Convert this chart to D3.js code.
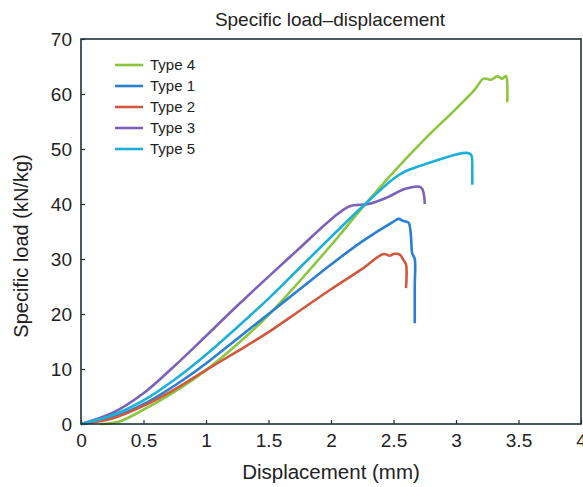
<!DOCTYPE html>
<html>
<head>
<meta charset="utf-8">
<script src="https://cdn.jsdelivr.net/npm/d3@7"></script>
<style>
  body { margin: 0; background: #fff; }
  text { font-family: "Liberation Sans", Arial, Helvetica, sans-serif; fill: #222; }
</style>
</head>
<body>
<div id="chart"></div>
<script>
/* Data: [displacement (mm), specific load (kN/kg)] */
var seriesNames = ["Type 4", "Type 1", "Type 2", "Type 3", "Type 5"];
var seriesColors = ["#8cc63f", "#2a7fd2", "#d0583e", "#7a62b8", "#1cb0d9"];

var type4 = [[0.15,0],[0.3,0.4],[0.5,2.6],[0.75,5.9],[1.0,9.8],[1.25,14.5],[1.5,19.8],[1.75,26],[2.0,32.5],
             [2.25,39.3],[2.5,45.8],[2.75,51.8],[3.0,57.3],[3.15,60.8],[3.22,62.8],[3.28,62.6],[3.33,63.2],[3.37,62.8],
             [3.4,63.3],[3.41,62],[3.41,58.5]];
var type1 = [[0,0],[0.25,1.2],[0.5,3.6],[0.75,7],[1.0,11],[1.25,15.5],[1.5,20],[1.75,24.5],[2.0,29],[2.25,33.2],
             [2.5,36.8],[2.54,37.3],[2.58,36.9],[2.62,36.6],[2.64,34],[2.65,31],[2.67,30],[2.67,25],[2.67,18.3]];
var type2 = [[0,0],[0.25,1],[0.5,3.3],[0.75,6.3],[1.0,9.8],[1.25,13.2],[1.5,16.7],[1.75,20.6],[2.0,24.5],
             [2.25,28.2],[2.42,30.9],[2.47,30.6],[2.5,30.9],[2.55,30.8],[2.58,29.8],[2.6,29],[2.6,24.7]];
var type3 = [[0,0],[0.25,2],[0.5,5.6],[0.75,10.6],[1.0,16],[1.25,21.5],[1.5,26.8],[1.75,32],[2.0,37.2],
             [2.15,39.6],[2.3,40],[2.45,41.2],[2.6,42.8],[2.72,43],[2.75,40]];
var type5 = [[0,0],[0.25,1.6],[0.5,4.3],[0.75,8.1],[1.0,12.6],[1.25,17.6],[1.5,22.8],[1.75,28.4],[2.0,34],
             [2.25,39.5],[2.5,44.6],[2.6,46],[2.8,47.6],[3.0,49],[3.08,49.3],[3.12,49],[3.13,46],[3.13,43.5]];
var seriesData = [type4, type1, type2, type3, type5];

var xTicks = [0, 0.5, 1, 1.5, 2, 2.5, 3, 3.5, 4];
var yTicks = [0, 10, 20, 30, 40, 50, 60, 70];

/* Overall SVG Container */
var width = 583, height = 487;
var margin = { top: 39, left: 81, right: 2, bottom: 63 };

var svg = d3.select("#chart")
    .append("svg")
    .attr("width", width)
    .attr("height", height);

var x = d3.scaleLinear().domain([0, 4]).range([margin.left, width - margin.right]);
var y = d3.scaleLinear().domain([0, 70]).range([height - margin.bottom, margin.top]);

/* Axes with inward ticks */
var xAxis = svg.append("g")
    .attr("transform", "translate(0," + y(0) + ")")
    .call(d3.axisBottom(x).tickValues(xTicks).tickSize(-4).tickPadding(10)
        .tickFormat(function(d) { return d; }));
var yAxis = svg.append("g")
    .attr("transform", "translate(" + x(0) + ",0)")
    .call(d3.axisLeft(y).tickValues(yTicks).tickSize(-4).tickPadding(9));

[xAxis, yAxis].forEach(function(g) {
    g.select(".domain").remove();
    g.selectAll("line").attr("stroke", "#1d3236").attr("stroke-width", 1.2);
    g.selectAll("text").attr("font-size", 19).attr("fill", "#222")
        .attr("font-family", "'Liberation Sans', Arial, sans-serif");
});
xAxis.selectAll("text").attr("dy", "0.71em");

/* Curves (smoothed through the read points) */
var line = d3.line()
    .curve(d3.curveCatmullRom.alpha(0.5))
    .x(function(d) { return x(d[0]); })
    .y(function(d) { return y(d[1]); });

svg.append("g")
    .selectAll("path")
    .data(seriesData)
    .enter().append("path")
    .attr("d", line)
    .attr("fill", "none")
    .attr("stroke", function(d, i) { return seriesColors[i]; })
    .attr("stroke-width", 2.6)
    .attr("stroke-linejoin", "round");

/* Frame */
svg.append("rect")
    .attr("x", x(0))
    .attr("y", y(70))
    .attr("width", x(4) - x(0))
    .attr("height", y(0) - y(70))
    .attr("fill", "none")
    .attr("stroke", "#1d3236")
    .attr("stroke-width", 1.6);

/* Legend */
var legend = svg.append("g")
    .selectAll("g")
    .data(seriesNames)
    .enter().append("g")
    .attr("transform", function(d, i) { return "translate(0," + (65 + i * 21) + ")"; });

legend.append("line")
    .attr("x1", 115).attr("x2", 143)
    .attr("stroke", function(d, i) { return seriesColors[i]; })
    .attr("stroke-width", 2.6);

legend.append("text")
    .attr("x", 150)
    .attr("dy", "0.36em")
    .attr("font-size", 15)
    .text(function(d) { return d; });

/* Titles */
svg.append("text")
    .attr("x", 330)
    .attr("y", 26)
    .attr("text-anchor", "middle")
    .attr("font-size", 19)
    .text("Specific load\u2013displacement");

svg.append("text")
    .attr("x", 331)
    .attr("y", 479)
    .attr("text-anchor", "middle")
    .attr("font-size", 20.5)
    .text("Displacement (mm)");

svg.append("text")
    .attr("transform", "translate(28,246) rotate(-90)")
    .attr("text-anchor", "middle")
    .attr("font-size", 20)
    .text("Specific load (kN/kg)");
</script>
</body>
</html>
